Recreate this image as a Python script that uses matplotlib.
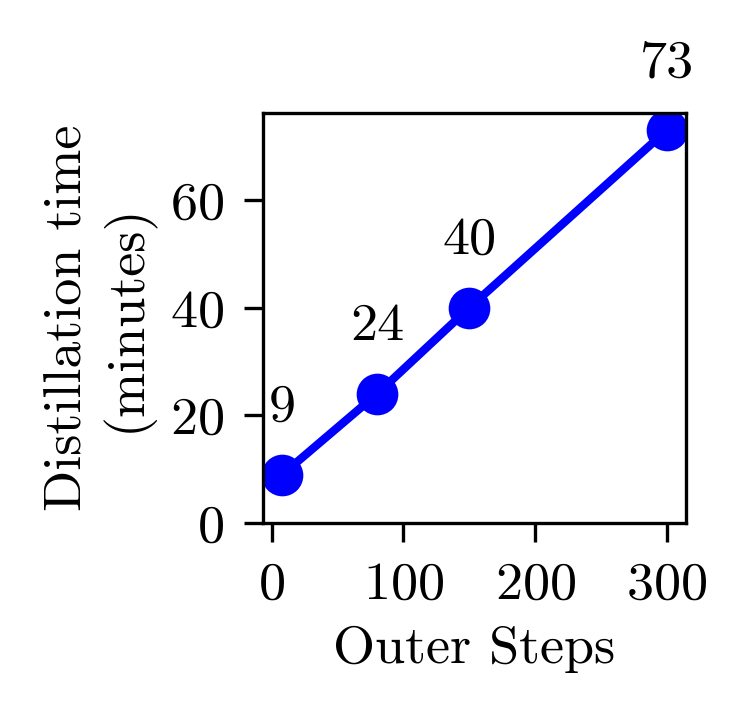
import matplotlib
matplotlib.use("Agg")
import matplotlib.pyplot as plt

# Distillation time vs outer steps
outer_steps = [8, 80, 150, 300]
dist_time = [9, 24, 40, 73]
tick_x = [0, 100, 200, 300]
tick_y = [0, 20, 40, 60]

plt.rcParams['font.family'] = ['cmr10', 'DejaVu Serif']
plt.rcParams['mathtext.fontset'] = 'cm'
plt.rcParams['axes.formatter.use_mathtext'] = True
plt.rcParams['font.size'] = 13

fig = plt.figure(figsize=(746 / 300, 720 / 300), dpi=300)
ax = fig.add_axes([263 / 746, 1 - 523 / 720, 423 / 746, 410 / 720])

ax.plot(outer_steps, dist_time, color='#0000ff', marker='o', markersize=9, linewidth=2)
for x, y in zip(outer_steps, dist_time):
    ax.text(x, y + 12.5, str(y), ha='center', va='center')

ax.set_xticks(tick_x)
ax.set_yticks(tick_y)
ax.tick_params(length=4.5, pad=4.8)
ax.set_ylim(bottom=0)
ax.set_xlabel("Outer Steps")
ax.set_ylabel("Distillation time\n(minutes)")

fig.savefig("out.png", dpi=300)
